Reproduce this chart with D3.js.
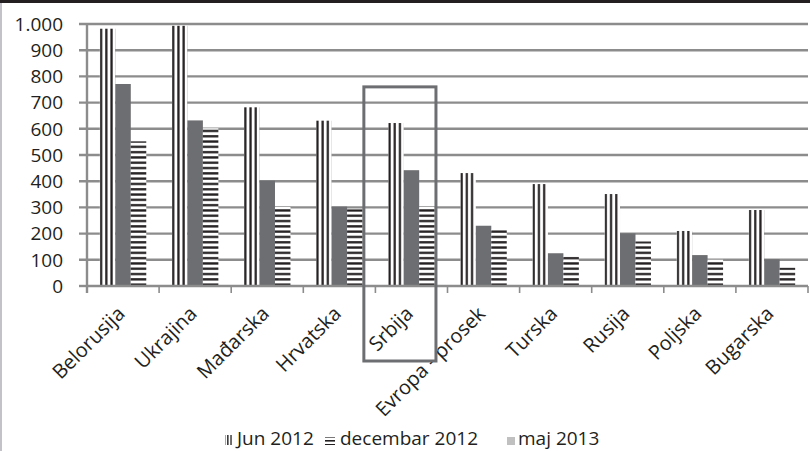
<!DOCTYPE html>
<html><head><meta charset="utf-8">
<script src="https://cdn.jsdelivr.net/npm/d3@7"></script>
<style>html,body{margin:0;padding:0;background:#fff;}svg{display:block;}</style>
</head><body>
<svg id="chart" width="810" height="451"></svg>
<script>
// ---- data ----
const categories = ["Belorusija","Ukrajina","Mađarska","Hrvatska","Srbija","Evropa - prosek","Turska","Rusija","Poljska","Bugarska"];
const seriesNames = ["Jun 2012","decembar 2012","maj 2013"];
const jun2012 = [982, 993, 682, 631, 622, 431, 389, 351, 210, 290];   // vertical stripes
const dec2012 = [552, 602, 303, 293, 302, 215, 112, 170, 103, 70];    // horizontal stripes
const maj2013 = [771, 632, 402, 303, 442, 230, 125, 201, 118, 102];   // solid gray
const yTicks = [0,100,200,300,400,500,600,700,800,900,1000];
const yTickLabels = ["0","100","200","300","400","500","600","700","800","900","1.000"];
const highlighted = "Srbija";

const ink = "#231f20", gray = "#6d6e71", grid = "#8c8c8c";
const svg = d3.select("#chart");
const W = 810, H = 451;

// frame
svg.append("rect").attr("x",0).attr("y",0).attr("width",W).attr("height",3).attr("fill",ink);
svg.append("rect").attr("x",0).attr("y",3).attr("width",2).attr("height",H-3).attr("fill","#c2c2c8");

const left = 87, right = 808;
const x = d3.scaleBand().domain(categories).range([left, right]).padding(0);
const y = d3.scaleLinear().domain([0,1000]).range([286, 24]);
// bar order in the groups: vertical, gray, horizontal
const barOrder = ["Jun 2012","maj 2013","decembar 2012"];
const xs = d3.scaleBand().domain(barOrder).range([0, x.bandwidth()]).paddingInner(0).paddingOuter(0.83);

const defs = svg.append("defs");
const pv = defs.append("pattern").attr("id","vstripe").attr("patternUnits","userSpaceOnUse")
  .attr("width",5.2).attr("height",10);
pv.append("rect").attr("width",5.2).attr("height",10).attr("fill","#fff");
pv.append("rect").attr("x",0.2).attr("width",2.2).attr("height",10).attr("fill",ink);
const ph = defs.append("pattern").attr("id","hstripe").attr("patternUnits","userSpaceOnUse")
  .attr("width",10).attr("height",5.3).attr("y", y(0));
ph.append("rect").attr("width",10).attr("height",5.3).attr("fill","#fff");
ph.append("rect").attr("y",2.8).attr("width",10).attr("height",2.3).attr("fill",ink);
const pvl = defs.append("pattern").attr("id","vstripeL").attr("patternUnits","userSpaceOnUse")
  .attr("width",3.2).attr("height",10);
pvl.append("rect").attr("width",3.2).attr("height",10).attr("fill","#fff");
pvl.append("rect").attr("x",0).attr("width",1.3).attr("height",10).attr("fill",ink);
const phl = defs.append("pattern").attr("id","hstripeL").attr("patternUnits","userSpaceOnUse")
  .attr("width",10).attr("height",4);
phl.append("rect").attr("width",10).attr("height",4).attr("fill","#fff");
phl.append("rect").attr("y",0).attr("width",10).attr("height",1.6).attr("fill",ink);

const seriesData = {"Jun 2012": jun2012, "decembar 2012": dec2012, "maj 2013": maj2013};
const seriesFill = {"Jun 2012":"url(#vstripe)", "decembar 2012":"url(#hstripe)", "maj 2013": gray};

// gridlines + y ticks
svg.append("g").selectAll("line").data(yTicks.filter(t=>t>0)).join("line")
  .attr("x1", 79).attr("x2", right).attr("y1", d=>y(d)).attr("y2", d=>y(d))
  .attr("stroke", grid).attr("stroke-width", 2.4);
svg.append("line").attr("x1",79).attr("x2",left).attr("y1",y(0)).attr("y2",y(0))
  .attr("stroke",grid).attr("stroke-width",2.4);

// bars
categories.forEach((c,i)=>{
  barOrder.forEach(s=>{
    const v = seriesData[s][i];
    const g = svg.append("g").attr("transform",`translate(${x(c)+xs(s)},0)`);
    g.append("rect").attr("x",0).attr("y",y(v)).attr("width",xs.bandwidth()).attr("height",y(0)-y(v))
      .attr("fill",seriesFill[s]);
  });
});

// axes lines
svg.append("line").attr("x1",left).attr("x2",right).attr("y1",y(0)).attr("y2",y(0))
  .attr("stroke",grid).attr("stroke-width",2.4);
svg.append("line").attr("x1",left).attr("x2",left).attr("y1",y(1000)-1).attr("y2",293)
  .attr("stroke",grid).attr("stroke-width",2.4);
const bounds = categories.map(c=>x(c)).concat([right]);
svg.append("g").selectAll("line").data(bounds.slice(1)).join("line")
  .attr("x1",d=>d).attr("x2",d=>d).attr("y1",y(0)).attr("y2",293)
  .attr("stroke",grid).attr("stroke-width",1.6);

// y labels
svg.append("g").selectAll("text").data(yTicks).join("text")
  .attr("x",63).attr("y",d=>y(d)).attr("dy","0.36em").attr("text-anchor","end")
  .attr("font-family","Open Sans").attr("font-size",19).attr("fill",ink)
  .text((d,i)=>yTickLabels[i]);

// x labels
svg.append("g").selectAll("text").data(categories).join("text")
  .attr("transform", d=>`translate(${x(d)+x.bandwidth()/2+3},315) rotate(-45)`)
  .attr("text-anchor","end").attr("font-family","Open Sans").attr("font-size",20).attr("fill",ink)
  .text(d=>d);

// highlight box
svg.append("rect")
  .attr("x", x(highlighted) - x.bandwidth()*0.16).attr("y", y(760))
  .attr("width", x.bandwidth()).attr("height", 361 - y(760))
  .attr("fill","none").attr("stroke",gray).attr("stroke-width",3);

// legend
const legendItems = [
  {name:"Jun 2012", fill:"url(#vstripeL)", sx:225, sw:8, sh:10, tx:237},
  {name:"decembar 2012", fill:"url(#hstripeL)", sx:325, sw:10, sh:8, tx:340},
  {name:"maj 2013", fill:"#c0c0c0", sx:507, sw:8, sh:8, tx:518}
];
const lg = svg.append("g");
legendItems.forEach(it=>{
  lg.append("rect").attr("x",it.sx).attr("y",445-it.sh).attr("width",it.sw).attr("height",it.sh).attr("fill",it.fill);
  lg.append("text").attr("x",it.tx).attr("y",445).attr("font-family","Open Sans").attr("font-size",19)
    .attr("fill",ink).text(it.name);
});
</script>
</body></html>
